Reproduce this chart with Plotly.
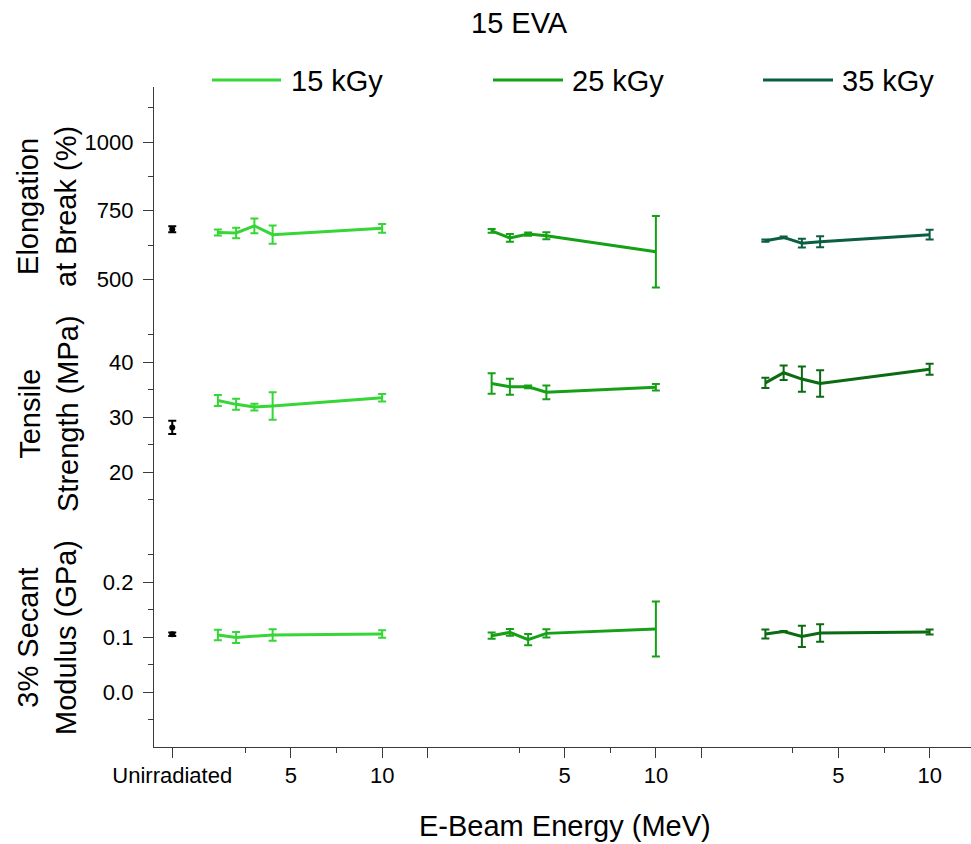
import plotly.graph_objects as go
from plotly.subplots import make_subplots

# ---- data -------------------------------------------------------------
energies = [1, 2, 3, 4, 10]                      # MeV
doses = ["15 kGy", "25 kGy", "35 kGy"]
dose_offsets = [0, 15, 30]                       # each dose block shifted along x

unirr_label = "Unirradiated"
unirr_x = -1.5
unirr_elong, unirr_elong_err = 683, 11
unirr_tens, unirr_tens_err = 28.1, 1.2
unirr_mod, unirr_mod_err = 0.105, 0.003

elong = {
    "15 kGy": [671, 669, 695, 663, 686],
    "25 kGy": [677, 651, 665, 659, 601],
    "35 kGy": [641, 653, 632, 637, 663],
}
elong_err = {
    "15 kGy": [11, 19, 27, 33, 16],
    "25 kGy": [7, 14, 6, 13, 130],
    "35 kGy": [4, 3, 16, 20, 18],
}
tens = {
    "15 kGy": [33.0, 32.3, 31.8, 32.0, 33.5],
    "25 kGy": [36.1, 35.5, 35.5, 34.5, 35.4],
    "35 kGy": [36.2, 38.05, 36.9, 36.1, 38.7],
}
tens_err = {
    "15 kGy": [1.0, 1.0, 0.6, 2.5, 0.7],
    "25 kGy": [1.85, 1.45, 0.25, 1.25, 0.58],
    "35 kGy": [0.94, 1.3, 2.3, 2.4, 1.0],
}
modulus = {
    "15 kGy": [0.1036, 0.0993, None, 0.1036, 0.1055],
    "25 kGy": [0.1024, 0.1084, 0.0951, 0.1066, 0.1145],
    "35 kGy": [0.1055, 0.110, 0.101, 0.1073, 0.109],
}
modulus_err = {
    "15 kGy": [0.0094, 0.010, 0, 0.0106, 0.0067],
    "25 kGy": [0.0058, 0.006, 0.0103, 0.0073, 0.05],
    "35 kGy": [0.0082, 0.001, 0.0194, 0.016, 0.0045],
}

x_tick_vals = [-1.5, 5, 10, 12.5, 20, 25, 27.5, 35, 40]
x_tick_text = ["Unirradiated", "5", "10", "", "5", "10", "", "5", "10"]
x_minor_vals = [2.5, 7.5, 17.5, 22.5, 32.5, 37.5]

# ---- styling ----------------------------------------------------------
FONT = "Liberation Sans, Arial, sans-serif"
AX = "#3a3a3a"
colors_elong = {"15 kGy": "#36d636", "25 kGy": "#16a016", "35 kGy": "#0c5e42"}
colors_other = {"15 kGy": "#36d636", "25 kGy": "#16a016", "35 kGy": "#0b6a12"}

W, H = 971, 844
ML, MR, MT, MB = 154, 0, 87, 97
PW, PH = W - ML - MR, H - MT - MB


def px_x(p):
    return (p - ML) / PW


def px_y(p):
    return (H - MB - p) / PH


fig = make_subplots(rows=3, cols=1, shared_xaxes=True, vertical_spacing=0)

panels = [(1, elong, elong_err, colors_elong, unirr_elong, unirr_elong_err),
          (2, tens, tens_err, colors_other, unirr_tens, unirr_tens_err),
          (3, modulus, modulus_err, colors_other, unirr_mod, unirr_mod_err)]

for row, vals, errs, cols, u_val, u_err in panels:
    for dose, off in zip(doses, dose_offsets):
        fig.add_trace(go.Scatter(
            x=[e + off for e in energies], y=vals[dose],
            mode="lines", connectgaps=True, showlegend=False, name=dose,
            line=dict(color=cols[dose], width=3),
            error_y=dict(type="data", array=errs[dose], visible=True,
                         color=cols[dose], thickness=2, width=4),
        ), row=row, col=1)
    fig.add_trace(go.Scatter(
        x=[unirr_x], y=[u_val], mode="markers", showlegend=False, name=unirr_label,
        marker=dict(color="black", size=6),
        error_y=dict(type="data", array=[u_err], visible=True,
                     color="black", thickness=2, width=4),
    ), row=row, col=1)

# ---- axes -------------------------------------------------------------
tick_font = dict(family=FONT, size=22, color="black")
common_y = dict(showline=True, linecolor=AX, linewidth=1.3, ticks="outside",
                ticklen=10, tickwidth=1.3, tickcolor=AX, showgrid=False,
                zeroline=False, tickfont=tick_font, ticklabelstandoff=5)
minor_y = dict(ticklen=5, tickwidth=1.3, tickcolor=AX, ticks="outside")

fig.update_yaxes(range=[400, 1200], tickvals=[500, 750, 1000],
                 minor=dict(tickvals=[625, 875, 1125], **minor_y),
                 row=1, col=1, **common_y)
fig.update_yaxes(range=[10, 50], tickvals=[20, 30, 40],
                 minor=dict(tickvals=[15, 25, 35, 45], **minor_y),
                 row=2, col=1, **common_y)
fig.update_yaxes(range=[-0.1, 0.3], tickvals=[0.0, 0.1, 0.2],
                 ticktext=["0.0", "0.1", "0.2"],
                 minor=dict(tickvals=[-0.05, 0.05, 0.15, 0.25], **minor_y),
                 row=3, col=1, **common_y)

x_range = [-2.5, -2.5 + PW / 18.25]
fig.update_xaxes(range=x_range, showgrid=False, zeroline=False,
                 showline=False, ticks="", showticklabels=False)
fig.update_xaxes(row=3, col=1, showline=True, linecolor=AX, linewidth=1.3,
                 ticks="outside", ticklen=10, tickwidth=1.3, tickcolor=AX,
                 tickvals=x_tick_vals, ticktext=x_tick_text,
                 showticklabels=True, tickfont=tick_font, ticklabelstandoff=-2,
                 minor=dict(tickvals=x_minor_vals, ticklen=5, tickwidth=1.3,
                            tickcolor=AX, ticks="outside"))

# ---- titles and legend --------------------------------------------------
title_font = dict(family=FONT, size=29, color="black")
annotations = [
    dict(text="15 EVA", x=px_x(519), y=px_y(23)),
    dict(text="E-Beam Energy (MeV)", x=px_x(565), y=px_y(826)),
    dict(text="Elongation<br>at Break (%)", x=px_x(47), y=px_y(207), textangle=-90),
    dict(text="Tensile<br>Strength (MPa)", x=px_x(49), y=px_y(414), textangle=-90),
    dict(text="3% Secant<br>Modulus (GPa)", x=px_x(47), y=px_y(638), textangle=-90),
]
for a in annotations:
    fig.add_annotation(xref="paper", yref="paper", showarrow=False,
                       xanchor="center", yanchor="middle", font=title_font, **a)

legend_items = [("15 kGy", 212, 281, 289, colors_elong["15 kGy"]),
                ("25 kGy", 493, 563, 570, colors_elong["25 kGy"]),
                ("35 kGy", 763, 833, 840, colors_elong["35 kGy"])]
for label, x0, x1, xt, c in legend_items:
    fig.add_shape(type="line", xref="paper", yref="paper",
                  x0=px_x(x0), x1=px_x(x1), y0=px_y(80), y1=px_y(80),
                  line=dict(color=c, width=3))
    fig.add_annotation(xref="paper", yref="paper", showarrow=False,
                       x=px_x(xt), y=px_y(81), xanchor="left", yanchor="middle",
                       text=label, font=title_font)

fig.update_layout(width=W, height=H, margin=dict(l=ML, r=MR, t=MT, b=MB),
                  paper_bgcolor="white", plot_bgcolor="white",
                  font=dict(family=FONT, color="black"), showlegend=False)

fig.write_html("out.html")
